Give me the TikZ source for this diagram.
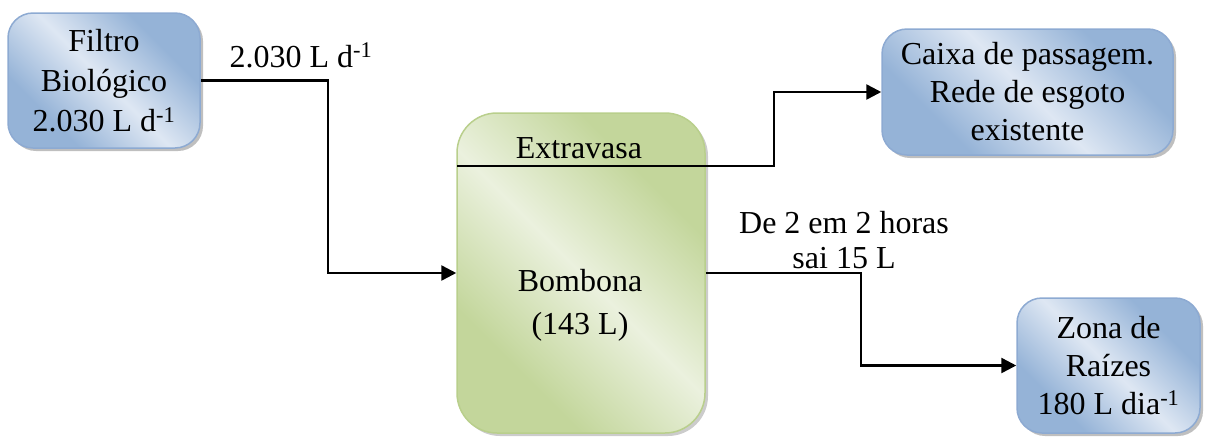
\documentclass[tikz,border=0pt]{standalone}
\usepackage{fontspec}
\setmainfont{Liberation Serif}
\usetikzlibrary{arrows.meta,shadows}
\definecolor{bdark}{RGB}{149,179,215}
\definecolor{blight}{RGB}{222,231,243}
\definecolor{gdark}{RGB}{195,214,155}
\definecolor{glight}{RGB}{235,241,222}
\definecolor{bborder}{RGB}{141,170,210}
\definecolor{gborder}{RGB}{185,207,140}
\pgfdeclarehorizontalshading{blueshade}{100bp}{color(0bp)=(bdark); color(30bp)=(bdark); color(50bp)=(blight); color(70bp)=(bdark); color(100bp)=(bdark)}
\pgfdeclarehorizontalshading{greenshade}{100bp}{color(0bp)=(gdark); color(30bp)=(gdark); color(50bp)=(glight); color(70bp)=(gdark); color(100bp)=(gdark)}
\tikzset{
  txt/.style={font=\fontsize{32}{38}\selectfont, inner sep=0pt, align=center},
  bluebox/.style={txt, rounded corners=25pt, draw=bborder, line width=1.5pt,
    shading=blueshade, shading angle=45,
    drop shadow={shadow xshift=3pt, shadow yshift=-3pt, fill=black!50, opacity=.5}},
  greenbox/.style={rounded corners=40pt, draw=gborder, line width=1.5pt,
    shading=greenshade, shading angle=45, inner sep=0pt,
    drop shadow={shadow xshift=3pt, shadow yshift=-3pt, fill=black!40, opacity=.5}},
  arr/.style={line width=2.5pt, -{Triangle[length=15pt,width=15pt]}}
}
\begin{document}
\begin{tikzpicture}[x=1pt,y=-1pt]
\useasboundingbox (0,0) rectangle (1207,437);
\node[bluebox, font=\fontsize{32}{40}\selectfont, minimum width=192pt, minimum height=135pt] (filtro) at (104,80.5)
  {Filtro\\Biológico\\2.030 L d\textsuperscript{-1}};
\node[greenbox, minimum width=248pt, minimum height=320pt] (bombona) at (581,273) {};
\node[bluebox, minimum width=291pt, minimum height=126pt] (caixa) at (1027.5,92)
  {Caixa de passagem.\\Rede de esgoto\\existente};
\node[bluebox, minimum width=183pt, minimum height=135pt] (zona) at (1108.5,365.5)
  {Zona de\\Raízes\\180 L dia\textsuperscript{-1}};
% labels
\node[txt, anchor=base] (lblfiltro) at (301,67) {2.030 L d\textsuperscript{-1}};
\node[txt, anchor=base] (lblextra) at (579,158) {Extravasa};
\node[txt, anchor=base] (lblbomb) at (580,334) {Bombona\\[5pt](143 L)};
\node[txt, anchor=base, font=\fontsize{32}{35}\selectfont] (lblsai) at (844,268) {De 2 em 2 horas\\sai 15 L};
% connectors
\coordinate (exstart) at (457,166);
\coordinate (exbend) at (774,166);
\draw[arr] (filtro.east) -- ++(127,0) |- (bombona.west);
\draw[arr] (exstart) -- (exbend) |- (caixa.west);
\draw[arr] (bombona.east) -- ++(155,0) |- (zona.west);
\end{tikzpicture}
\end{document}
